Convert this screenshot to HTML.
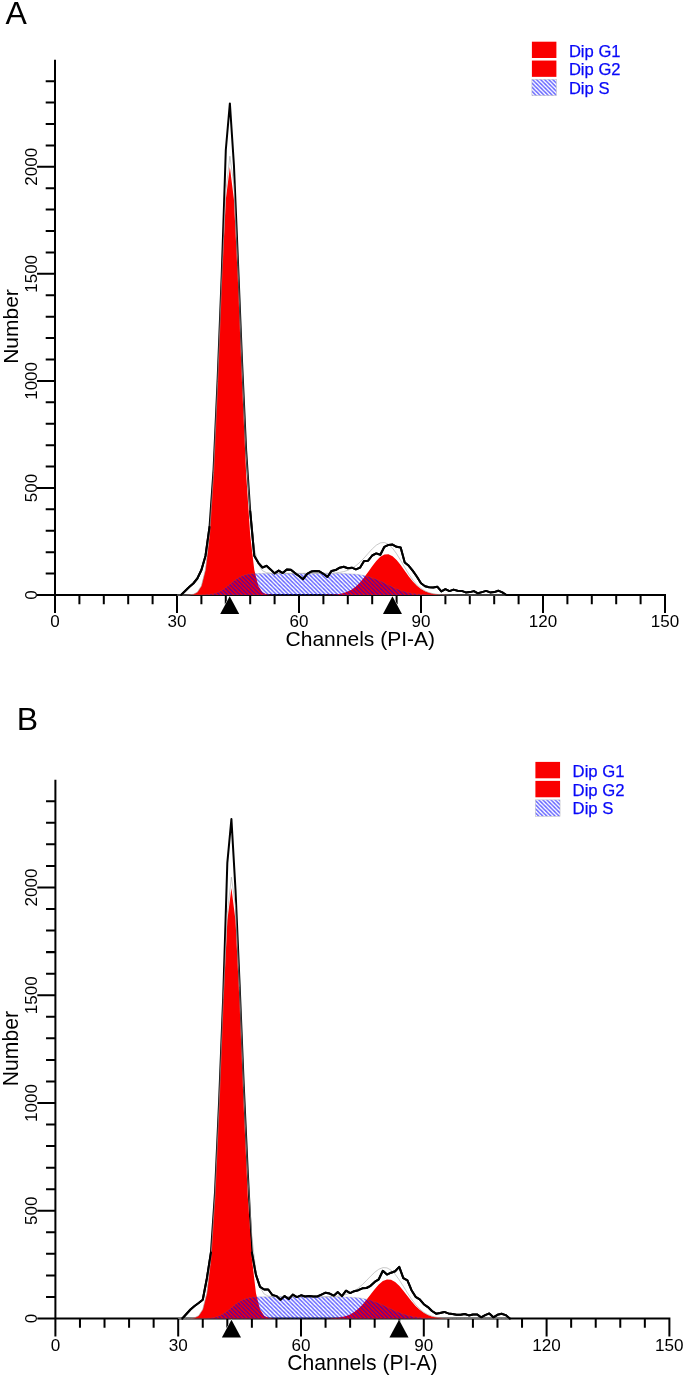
<!DOCTYPE html>
<html lang="en">
<head>
<meta charset="utf-8">
<title>Cell cycle histograms</title>
<style>
html,body{margin:0;padding:0;background:#fff;}
body{width:685px;height:1376px;overflow:hidden;font-family:"Liberation Sans",Arial,sans-serif;}
svg{display:block;}
</style>
</head>
<body>
<svg width="685" height="1376" viewBox="0 0 685 1376">
<defs>
<pattern id="hatch" width="4.08" height="4.08" patternUnits="userSpaceOnUse">
<path d="M-1 -1 L5.08 5.08 M-1 3.08 L1 5.08 M3.08 -1 L5.08 1" stroke="#0000ff" stroke-opacity="0.62" stroke-width="1.35" fill="none"/>
</pattern>
</defs>
<rect x="0" y="0" width="685" height="1376" fill="#fff"/>
<g id="panelA">
<path d="M55.00 59.75 V613.00 M37.00 595.00 H666.00 M55.00 595.00 v18.00 M79.40 595.00 v9.30 M103.80 595.00 v9.30 M128.20 595.00 v9.30 M152.60 595.00 v9.30 M177.00 595.00 v18.00 M201.40 595.00 v9.30 M225.80 595.00 v9.30 M250.20 595.00 v9.30 M274.60 595.00 v9.30 M299.00 595.00 v18.00 M323.40 595.00 v9.30 M347.80 595.00 v9.30 M372.20 595.00 v9.30 M396.60 595.00 v9.30 M421.00 595.00 v18.00 M445.40 595.00 v9.30 M469.80 595.00 v9.30 M494.20 595.00 v9.30 M518.60 595.00 v9.30 M543.00 595.00 v18.00 M567.40 595.00 v9.30 M591.80 595.00 v9.30 M616.20 595.00 v9.30 M640.60 595.00 v9.30 M665.00 595.00 v18.00 M55.00 595.00 h-18.00 M55.00 573.59 h-9.30 M55.00 552.18 h-9.30 M55.00 530.77 h-9.30 M55.00 509.36 h-9.30 M55.00 487.95 h-18.00 M55.00 466.54 h-9.30 M55.00 445.13 h-9.30 M55.00 423.72 h-9.30 M55.00 402.31 h-9.30 M55.00 380.90 h-18.00 M55.00 359.49 h-9.30 M55.00 338.08 h-9.30 M55.00 316.67 h-9.30 M55.00 295.26 h-9.30 M55.00 273.85 h-18.00 M55.00 252.44 h-9.30 M55.00 231.03 h-9.30 M55.00 209.62 h-9.30 M55.00 188.21 h-9.30 M55.00 166.80 h-18.00 M55.00 145.39 h-9.30 M55.00 123.98 h-9.30 M55.00 102.57 h-9.30 M55.00 81.16 h-9.30" fill="none" stroke="#000" stroke-width="2.00"/>
<polyline points="181.07,595.00 185.13,591.00 189.20,587.00 193.27,583.50 197.33,578.50 201.40,570.00 205.47,556.00 209.53,527.00 213.60,469.35 217.67,378.76 221.73,275.02 225.80,150.00 229.87,103.40 233.93,165.00 238.00,262.65 242.07,362.21 246.13,450.18 250.20,511.13 254.27,555.70 258.34,562.80 262.40,567.50 266.47,565.80 270.54,569.40 274.60,573.40 278.67,570.60 282.74,573.10 286.80,569.40 290.87,569.70 294.94,573.10 299.00,576.00 303.07,579.20 307.14,573.80 311.20,571.60 315.27,570.90 319.34,571.30 323.40,573.80 327.47,577.00 331.54,570.90 335.60,570.10 339.67,567.70 343.74,566.80 347.80,568.20 351.87,567.70 355.94,569.40 360.00,567.70 364.07,560.90 368.14,560.70 372.20,555.50 376.27,553.40 380.34,554.80 384.40,546.80 388.47,544.90 392.54,544.60 396.60,546.80 400.67,547.50 404.74,562.40 408.80,565.80 412.87,570.90 416.94,576.70 421.00,583.30 425.07,586.20 429.14,587.20 433.20,587.40 437.27,586.70 441.34,591.40 445.40,589.20 449.47,591.10 453.54,589.60 457.60,590.70 461.67,590.90 465.74,592.40 469.80,592.10 473.87,591.10 477.94,593.30 482.00,592.10 486.07,590.90 490.14,592.40 494.20,592.10 498.27,590.70 502.34,592.40 506.40,595.00" fill="none" stroke="#000" stroke-width="2.00" stroke-linejoin="round" stroke-linecap="round"/>
<polygon points="168.87,595.00 168.87,595.00 172.93,595.00 177.00,595.00 181.07,594.99 185.13,594.97 189.20,594.84 193.27,594.27 197.33,592.23 201.40,585.97 205.47,569.86 209.53,535.22 213.60,473.57 217.67,384.29 221.73,282.63 225.80,199.41 229.87,167.00 233.93,199.41 238.00,282.63 242.07,384.29 246.13,473.57 250.20,535.22 254.27,569.86 258.34,585.97 262.40,592.23 266.47,594.27 270.54,594.84 274.60,594.97 278.67,594.99 282.74,595.00 286.80,595.00 290.87,595.00 294.94,595.00 294.94,595.00" fill="#fa0000"/>
<polygon points="299.00,595.00 299.00,595.00 303.07,595.00 307.14,595.00 311.20,595.00 315.27,594.99 319.34,594.98 323.40,594.94 327.47,594.87 331.54,594.72 335.60,594.44 339.67,593.92 343.74,593.04 347.80,591.62 351.87,589.46 355.94,586.42 360.00,582.41 364.07,577.48 368.14,571.92 372.20,566.19 376.27,560.93 380.34,556.84 384.40,554.50 388.47,554.28 392.54,556.21 396.60,560.00 400.67,565.08 404.74,570.77 408.80,576.41 412.87,581.49 416.94,585.70 421.00,588.93 425.07,591.25 429.14,592.80 433.20,593.78 437.27,594.36 441.34,594.68 445.40,594.85 449.47,594.93 453.54,594.97 457.60,594.99 461.67,595.00 465.74,595.00 469.80,595.00 473.87,595.00 477.94,595.00 482.00,595.00 486.07,595.00 490.14,595.00 494.20,595.00 498.27,595.00 502.34,595.00 506.40,595.00 506.40,595.00" fill="#fa0000"/>
<polygon points="177.00,595.00 177.00,595.00 181.07,595.00 185.13,595.00 189.20,595.00 193.27,595.00 197.33,594.98 201.40,594.94 205.47,594.81 209.53,594.49 213.60,593.79 217.67,592.47 221.73,590.38 225.80,587.53 229.87,584.20 233.93,580.87 238.00,578.02 242.07,575.93 246.13,574.61 250.20,573.91 254.27,573.59 258.34,573.46 262.40,573.42 266.47,573.40 270.54,573.40 274.60,573.40 278.67,573.40 282.74,573.40 286.80,573.40 290.87,573.40 294.94,573.40 299.00,573.40 303.07,573.40 307.14,573.40 311.20,573.40 315.27,573.40 319.34,573.40 323.40,573.40 327.47,573.41 331.54,573.42 335.60,573.44 339.67,573.48 343.74,573.55 347.80,573.68 351.87,573.89 355.94,574.23 360.00,574.75 364.07,575.48 368.14,576.48 372.20,577.75 376.27,579.29 380.34,581.07 384.40,583.00 388.47,585.00 392.54,586.96 396.60,588.77 400.67,590.37 404.74,591.69 408.80,592.74 412.87,593.52 416.94,594.08 421.00,594.45 425.07,594.69 429.14,594.83 433.20,594.91 437.27,594.96 441.34,594.98 445.40,594.99 449.47,595.00 453.54,595.00 457.60,595.00 461.67,595.00 465.74,595.00 469.80,595.00 473.87,595.00 477.94,595.00 482.00,595.00 486.07,595.00 490.14,595.00 494.20,595.00 498.27,595.00 502.34,595.00 506.40,595.00 506.40,595.00" fill="url(#hatch)" stroke="#777" stroke-opacity="0.4" stroke-width="0.5"/>
<polyline points="177.00,595.00 181.07,594.99 185.13,594.97 189.20,594.84 193.27,594.27 197.33,592.21 201.40,585.91 205.47,569.67 209.53,534.71 213.60,472.35 217.67,381.76 221.73,278.02 225.80,191.94 229.87,156.20 233.93,185.27 238.00,265.65 242.07,365.21 246.13,453.18 250.20,514.13 254.27,548.44 258.34,564.42 262.40,570.64 266.47,572.68 270.54,573.24 274.60,573.37 278.67,573.39 282.74,573.40 286.80,573.40 290.87,573.40 294.94,573.40 299.00,573.40 303.07,573.40 307.14,573.40 311.20,573.40 315.27,573.39 319.34,573.38 323.40,573.35 327.47,573.28 331.54,573.14 335.60,572.88 339.67,572.40 343.74,571.59 347.80,570.29 351.87,568.36 355.94,565.66 360.00,562.15 364.07,557.97 368.14,553.40 372.20,548.94 376.27,545.22 380.34,542.90 384.40,542.50 388.47,544.28 392.54,548.17 396.60,553.77 400.67,560.45 404.74,567.46 408.80,574.15 412.87,580.01 416.94,584.78 421.00,588.38 425.07,590.94 429.14,592.64 433.20,593.70 437.27,594.32 441.34,594.66 445.40,594.84 449.47,594.93 453.54,594.97 457.60,594.99 461.67,595.00 465.74,595.00 469.80,595.00 473.87,595.00 477.94,595.00 482.00,595.00 486.07,595.00 490.14,595.00 494.20,595.00 498.27,595.00 502.34,595.00 506.40,595.00" fill="none" stroke="#a4a4a4" stroke-width="0.6"/>
<polyline points="250.20,511.13 254.27,555.70 258.34,562.80 262.40,567.50 266.47,565.80 270.54,569.40 274.60,573.40 278.67,570.60 282.74,573.10 286.80,569.40 290.87,569.70 294.94,573.10 299.00,576.00 303.07,579.20 307.14,573.80 311.20,571.60 315.27,570.90 319.34,571.30 323.40,573.80 327.47,577.00 331.54,570.90 335.60,570.10 339.67,567.70 343.74,566.80 347.80,568.20 351.87,567.70 355.94,569.40 360.00,567.70 364.07,560.90 368.14,560.70 372.20,555.50 376.27,553.40 380.34,554.80 384.40,546.80 388.47,544.90 392.54,544.60 396.60,546.80 400.67,547.50 404.74,562.40 408.80,565.80 412.87,570.90 416.94,576.70 421.00,583.30 425.07,586.20 429.14,587.20 433.20,587.40 437.27,586.70 441.34,591.40 445.40,589.20 449.47,591.10 453.54,589.60 457.60,590.70 461.67,590.90 465.74,592.40 469.80,592.10 473.87,591.10 477.94,593.30 482.00,592.10 486.07,590.90 490.14,592.40 494.20,592.10 498.27,590.70 502.34,592.40 506.40,595.00" fill="none" stroke="#000" stroke-width="2.00" stroke-linejoin="round" stroke-linecap="round"/>
<polyline points="181.07,595.00 185.13,591.00 189.20,587.00 193.27,583.50 197.33,578.50 201.40,570.00 205.47,556.00 209.53,527.00" fill="none" stroke="#000" stroke-width="2.00" stroke-linejoin="round" stroke-linecap="round"/>
<polygon points="229.70,597.40 220.50,613.60 238.90,613.60" fill="#fff" stroke="#fff" stroke-width="1.6" stroke-linejoin="miter"/>
<polygon points="229.70,596.20 220.20,614.00 239.20,614.00" fill="#000"/>
<polygon points="392.45,597.40 383.25,613.60 401.65,613.60" fill="#fff" stroke="#fff" stroke-width="1.6" stroke-linejoin="miter"/>
<polygon points="392.45,596.20 382.95,614.00 401.95,614.00" fill="#000"/>
<text x="55.00" y="627.00" font-size="17.00" text-anchor="middle" font-family="'Liberation Sans', Arial, sans-serif">0</text>
<text x="177.00" y="627.00" font-size="17.00" text-anchor="middle" font-family="'Liberation Sans', Arial, sans-serif">30</text>
<text x="299.00" y="627.00" font-size="17.00" text-anchor="middle" font-family="'Liberation Sans', Arial, sans-serif">60</text>
<text x="421.00" y="627.00" font-size="17.00" text-anchor="middle" font-family="'Liberation Sans', Arial, sans-serif">90</text>
<text x="543.00" y="627.00" font-size="17.00" text-anchor="middle" font-family="'Liberation Sans', Arial, sans-serif">120</text>
<text x="665.00" y="627.00" font-size="17.00" text-anchor="middle" font-family="'Liberation Sans', Arial, sans-serif">150</text>
<text transform="translate(36.90 595.00) rotate(-90)" font-size="17.00" text-anchor="middle" font-family="'Liberation Sans', Arial, sans-serif">0</text>
<text transform="translate(36.90 487.95) rotate(-90)" font-size="17.00" text-anchor="middle" font-family="'Liberation Sans', Arial, sans-serif">500</text>
<text transform="translate(36.90 380.90) rotate(-90)" font-size="17.00" text-anchor="middle" font-family="'Liberation Sans', Arial, sans-serif">1000</text>
<text transform="translate(36.90 273.85) rotate(-90)" font-size="17.00" text-anchor="middle" font-family="'Liberation Sans', Arial, sans-serif">1500</text>
<text transform="translate(36.90 166.80) rotate(-90)" font-size="17.00" text-anchor="middle" font-family="'Liberation Sans', Arial, sans-serif">2000</text>
<text x="360.30" y="645.70" font-size="21.00" text-anchor="middle" font-family="'Liberation Sans', Arial, sans-serif">Channels (PI-A)</text>
<text transform="translate(17.50 326.50) rotate(-90)" font-size="21.00" text-anchor="middle" font-family="'Liberation Sans', Arial, sans-serif">Number</text>
<rect x="531.90" y="41.70" width="24.50" height="16.30" fill="#fa0000"/>
<rect x="531.90" y="60.55" width="24.50" height="16.30" fill="#fa0000"/>
<rect x="531.90" y="79.40" width="24.50" height="16.30" fill="url(#hatch)" stroke="#bbb" stroke-width="0.5"/>
<text x="568.90" y="56.60" font-size="16.60" fill="#0808f8" stroke="#0808f8" stroke-width="0.25" font-family="'Liberation Sans', Arial, sans-serif">Dip G1</text>
<text x="568.90" y="75.25" font-size="16.60" fill="#0808f8" stroke="#0808f8" stroke-width="0.25" font-family="'Liberation Sans', Arial, sans-serif">Dip G2</text>
<text x="568.90" y="93.90" font-size="16.60" fill="#0808f8" stroke="#0808f8" stroke-width="0.25" font-family="'Liberation Sans', Arial, sans-serif">Dip S</text>
<text x="5.60" y="23.80" font-size="32.00" font-family="'Liberation Sans', Arial, sans-serif">A</text>
</g>
<g id="panelB">
<path d="M55.40 779.70 V1336.62 M37.28 1318.50 H670.40 M55.40 1318.50 v18.12 M79.96 1318.50 v9.36 M104.52 1318.50 v9.36 M129.08 1318.50 v9.36 M153.64 1318.50 v9.36 M178.20 1318.50 v18.12 M202.76 1318.50 v9.36 M227.32 1318.50 v9.36 M251.88 1318.50 v9.36 M276.44 1318.50 v9.36 M301.00 1318.50 v18.12 M325.56 1318.50 v9.36 M350.12 1318.50 v9.36 M374.68 1318.50 v9.36 M399.24 1318.50 v9.36 M423.80 1318.50 v18.12 M448.36 1318.50 v9.36 M472.92 1318.50 v9.36 M497.48 1318.50 v9.36 M522.04 1318.50 v9.36 M546.60 1318.50 v18.12 M571.16 1318.50 v9.36 M595.72 1318.50 v9.36 M620.28 1318.50 v9.36 M644.84 1318.50 v9.36 M669.39 1318.50 v18.12 M55.40 1318.50 h-18.12 M55.40 1296.95 h-9.36 M55.40 1275.40 h-9.36 M55.40 1253.84 h-9.36 M55.40 1232.29 h-9.36 M55.40 1210.74 h-18.12 M55.40 1189.19 h-9.36 M55.40 1167.64 h-9.36 M55.40 1146.08 h-9.36 M55.40 1124.53 h-9.36 M55.40 1102.98 h-18.12 M55.40 1081.43 h-9.36 M55.40 1059.88 h-9.36 M55.40 1038.32 h-9.36 M55.40 1016.77 h-9.36 M55.40 995.22 h-18.12 M55.40 973.67 h-9.36 M55.40 952.12 h-9.36 M55.40 930.56 h-9.36 M55.40 909.01 h-9.36 M55.40 887.46 h-18.12 M55.40 865.91 h-9.36 M55.40 844.36 h-9.36 M55.40 822.80 h-9.36 M55.40 801.25 h-9.36" fill="none" stroke="#000" stroke-width="2.01"/>
<polyline points="182.29,1318.50 186.39,1314.00 190.48,1309.50 194.57,1306.00 198.67,1303.00 202.76,1299.70 206.85,1278.50 210.95,1252.50 215.04,1192.14 219.13,1101.02 223.23,996.67 227.32,862.80 231.41,819.00 235.51,890.00 239.60,984.24 243.69,1084.39 247.79,1172.88 251.88,1252.50 255.97,1274.90 260.06,1286.90 264.16,1289.50 268.25,1289.50 272.34,1295.00 276.44,1296.10 280.53,1299.70 284.62,1296.10 288.72,1299.00 292.81,1294.60 296.90,1297.10 301.00,1295.30 305.09,1296.50 309.18,1296.10 313.28,1296.50 317.37,1296.50 321.46,1294.60 325.56,1292.70 329.65,1293.60 333.74,1295.70 337.84,1292.10 341.93,1296.10 346.02,1290.70 350.12,1293.10 354.21,1291.20 358.30,1290.20 362.40,1288.30 366.49,1288.00 370.58,1285.80 374.68,1281.90 378.77,1279.30 382.86,1270.80 386.96,1274.60 391.05,1272.70 395.14,1271.20 399.24,1266.90 403.33,1278.10 407.42,1280.40 411.52,1290.20 415.61,1296.80 419.70,1299.30 423.80,1304.20 427.89,1307.10 431.98,1311.00 436.08,1313.70 440.17,1312.90 444.26,1311.90 448.36,1313.40 452.45,1314.00 456.54,1314.80 460.64,1314.80 464.73,1314.00 468.82,1315.40 472.92,1314.40 477.01,1314.40 481.10,1317.30 485.20,1315.10 489.29,1313.40 493.38,1317.30 497.48,1314.80 501.57,1313.70 505.66,1315.10 509.76,1318.50" fill="none" stroke="#000" stroke-width="2.01" stroke-linejoin="round" stroke-linecap="round"/>
<polygon points="170.01,1318.50 170.01,1318.50 174.11,1318.50 178.20,1318.50 182.29,1318.49 186.39,1318.47 190.48,1318.34 194.57,1317.77 198.67,1315.71 202.76,1309.41 206.85,1293.21 210.95,1258.37 215.04,1196.36 219.13,1106.55 223.23,1004.31 227.32,920.60 231.41,888.00 235.51,920.60 239.60,1004.31 243.69,1106.55 247.79,1196.36 251.88,1258.37 255.97,1293.21 260.06,1309.41 264.16,1315.71 268.25,1317.77 272.34,1318.34 276.44,1318.47 280.53,1318.49 284.62,1318.50 288.72,1318.50 292.81,1318.50 296.90,1318.50 296.90,1318.50" fill="#fa0000"/>
<polygon points="301.00,1318.50 301.00,1318.50 305.09,1318.50 309.18,1318.50 313.28,1318.49 317.37,1318.48 321.46,1318.46 325.56,1318.41 329.65,1318.31 333.74,1318.11 337.84,1317.74 341.93,1317.09 346.02,1316.04 350.12,1314.40 354.21,1312.02 358.30,1308.79 362.40,1304.66 366.49,1299.78 370.58,1294.45 374.68,1289.16 378.77,1284.51 382.86,1281.10 386.96,1279.42 391.05,1279.73 395.14,1281.96 399.24,1285.80 403.33,1290.71 407.42,1296.07 411.52,1301.31 415.61,1305.99 419.70,1309.85 423.80,1312.82 427.89,1314.96 431.98,1316.41 436.08,1317.32 440.17,1317.87 444.26,1318.18 448.36,1318.35 452.45,1318.43 456.54,1318.47 460.64,1318.49 464.73,1318.50 468.82,1318.50 472.92,1318.50 477.01,1318.50 481.10,1318.50 485.20,1318.50 489.29,1318.50 493.38,1318.50 497.48,1318.50 501.57,1318.50 505.66,1318.50 509.76,1318.50 509.76,1318.50" fill="#fa0000"/>
<polygon points="178.20,1318.50 178.20,1318.50 182.29,1318.50 186.39,1318.50 190.48,1318.50 194.57,1318.50 198.67,1318.48 202.76,1318.44 206.85,1318.31 210.95,1317.99 215.04,1317.28 219.13,1315.96 223.23,1313.86 227.32,1311.00 231.41,1307.65 235.51,1304.30 239.60,1301.44 243.69,1299.34 247.79,1298.02 251.88,1297.31 255.97,1296.99 260.06,1296.86 264.16,1296.82 268.25,1296.80 272.34,1296.80 276.44,1296.80 280.53,1296.80 284.62,1296.80 288.72,1296.80 292.81,1296.80 296.90,1296.80 301.00,1296.80 305.09,1296.80 309.18,1296.80 313.28,1296.80 317.37,1296.80 321.46,1296.80 325.56,1296.81 329.65,1296.81 333.74,1296.83 337.84,1296.85 341.93,1296.91 346.02,1297.00 350.12,1297.16 354.21,1297.43 358.30,1297.83 362.40,1298.42 366.49,1299.23 370.58,1300.30 374.68,1301.64 378.77,1303.24 382.86,1305.03 386.96,1306.96 391.05,1308.92 395.14,1310.82 399.24,1312.57 403.33,1314.09 407.42,1315.35 411.52,1316.34 415.61,1317.08 419.70,1317.61 423.80,1317.96 427.89,1318.19 431.98,1318.33 436.08,1318.41 440.17,1318.46 444.26,1318.48 448.36,1318.49 452.45,1318.50 456.54,1318.50 460.64,1318.50 464.73,1318.50 468.82,1318.50 472.92,1318.50 477.01,1318.50 481.10,1318.50 485.20,1318.50 489.29,1318.50 493.38,1318.50 497.48,1318.50 501.57,1318.50 505.66,1318.50 509.76,1318.50 509.76,1318.50" fill="url(#hatch)" stroke="#777" stroke-opacity="0.4" stroke-width="0.5"/>
<polyline points="178.20,1318.50 182.29,1318.49 186.39,1318.47 190.48,1318.34 194.57,1317.76 198.67,1315.69 202.76,1309.35 206.85,1293.02 210.95,1257.85 215.04,1195.14 219.13,1104.02 223.23,999.67 227.32,913.09 231.41,877.15 235.51,906.40 239.60,987.24 243.69,1087.39 247.79,1175.88 251.88,1237.18 255.97,1271.70 260.06,1287.77 264.16,1294.03 268.25,1296.07 272.34,1296.64 276.44,1296.77 280.53,1296.79 284.62,1296.80 288.72,1296.80 292.81,1296.80 296.90,1296.80 301.00,1296.80 305.09,1296.80 309.18,1296.80 313.28,1296.79 317.37,1296.78 321.46,1296.76 325.56,1296.72 329.65,1296.62 333.74,1296.43 337.84,1296.09 341.93,1295.50 346.02,1294.54 350.12,1293.06 354.21,1290.95 358.30,1288.12 362.40,1284.58 366.49,1280.51 370.58,1276.26 374.68,1272.31 378.77,1269.25 382.86,1267.64 386.96,1267.89 391.05,1270.15 395.14,1274.28 399.24,1279.87 403.33,1286.30 407.42,1292.92 411.52,1299.15 415.61,1304.57 419.70,1308.96 423.80,1312.29 427.89,1314.65 431.98,1316.24 436.08,1317.23 440.17,1317.83 444.26,1318.16 448.36,1318.34 452.45,1318.43 456.54,1318.47 460.64,1318.49 464.73,1318.49 468.82,1318.50 472.92,1318.50 477.01,1318.50 481.10,1318.50 485.20,1318.50 489.29,1318.50 493.38,1318.50 497.48,1318.50 501.57,1318.50 505.66,1318.50 509.76,1318.50" fill="none" stroke="#a4a4a4" stroke-width="0.6"/>
<polyline points="251.88,1252.50 255.97,1274.90 260.06,1286.90 264.16,1289.50 268.25,1289.50 272.34,1295.00 276.44,1296.10 280.53,1299.70 284.62,1296.10 288.72,1299.00 292.81,1294.60 296.90,1297.10 301.00,1295.30 305.09,1296.50 309.18,1296.10 313.28,1296.50 317.37,1296.50 321.46,1294.60 325.56,1292.70 329.65,1293.60 333.74,1295.70 337.84,1292.10 341.93,1296.10 346.02,1290.70 350.12,1293.10 354.21,1291.20 358.30,1290.20 362.40,1288.30 366.49,1288.00 370.58,1285.80 374.68,1281.90 378.77,1279.30 382.86,1270.80 386.96,1274.60 391.05,1272.70 395.14,1271.20 399.24,1266.90 403.33,1278.10 407.42,1280.40 411.52,1290.20 415.61,1296.80 419.70,1299.30 423.80,1304.20 427.89,1307.10 431.98,1311.00 436.08,1313.70 440.17,1312.90 444.26,1311.90 448.36,1313.40 452.45,1314.00 456.54,1314.80 460.64,1314.80 464.73,1314.00 468.82,1315.40 472.92,1314.40 477.01,1314.40 481.10,1317.30 485.20,1315.10 489.29,1313.40 493.38,1317.30 497.48,1314.80 501.57,1313.70 505.66,1315.10 509.76,1318.50" fill="none" stroke="#000" stroke-width="2.01" stroke-linejoin="round" stroke-linecap="round"/>
<polyline points="182.29,1318.50 186.39,1314.00 190.48,1309.50 194.57,1306.00 198.67,1303.00 202.76,1299.70 206.85,1278.50 210.95,1252.50" fill="none" stroke="#000" stroke-width="2.01" stroke-linejoin="round" stroke-linecap="round"/>
<polygon points="231.45,1320.92 222.19,1337.22 240.71,1337.22" fill="#fff" stroke="#fff" stroke-width="1.6" stroke-linejoin="miter"/>
<polygon points="231.45,1319.71 221.89,1337.62 241.01,1337.62" fill="#000"/>
<polygon points="399.00,1320.92 389.74,1337.22 408.26,1337.22" fill="#fff" stroke="#fff" stroke-width="1.6" stroke-linejoin="miter"/>
<polygon points="399.00,1319.71 389.44,1337.62 408.56,1337.62" fill="#000"/>
<text x="55.40" y="1350.70" font-size="17.10" text-anchor="middle" font-family="'Liberation Sans', Arial, sans-serif">0</text>
<text x="178.20" y="1350.70" font-size="17.10" text-anchor="middle" font-family="'Liberation Sans', Arial, sans-serif">30</text>
<text x="301.00" y="1350.70" font-size="17.10" text-anchor="middle" font-family="'Liberation Sans', Arial, sans-serif">60</text>
<text x="423.80" y="1350.70" font-size="17.10" text-anchor="middle" font-family="'Liberation Sans', Arial, sans-serif">90</text>
<text x="546.60" y="1350.70" font-size="17.10" text-anchor="middle" font-family="'Liberation Sans', Arial, sans-serif">120</text>
<text x="669.39" y="1350.70" font-size="17.10" text-anchor="middle" font-family="'Liberation Sans', Arial, sans-serif">150</text>
<text transform="translate(37.20 1318.50) rotate(-90)" font-size="17.10" text-anchor="middle" font-family="'Liberation Sans', Arial, sans-serif">0</text>
<text transform="translate(37.20 1210.74) rotate(-90)" font-size="17.10" text-anchor="middle" font-family="'Liberation Sans', Arial, sans-serif">500</text>
<text transform="translate(37.20 1102.98) rotate(-90)" font-size="17.10" text-anchor="middle" font-family="'Liberation Sans', Arial, sans-serif">1000</text>
<text transform="translate(37.20 995.22) rotate(-90)" font-size="17.10" text-anchor="middle" font-family="'Liberation Sans', Arial, sans-serif">1500</text>
<text transform="translate(37.20 887.46) rotate(-90)" font-size="17.10" text-anchor="middle" font-family="'Liberation Sans', Arial, sans-serif">2000</text>
<text x="362.40" y="1369.50" font-size="21.15" text-anchor="middle" font-family="'Liberation Sans', Arial, sans-serif">Channels (PI-A)</text>
<text transform="translate(18.00 1048.60) rotate(-90)" font-size="21.15" text-anchor="middle" font-family="'Liberation Sans', Arial, sans-serif">Number</text>
<rect x="535.40" y="761.90" width="24.66" height="16.41" fill="#fa0000"/>
<rect x="535.40" y="780.87" width="24.66" height="16.41" fill="#fa0000"/>
<rect x="535.40" y="799.85" width="24.66" height="16.41" fill="url(#hatch)" stroke="#bbb" stroke-width="0.5"/>
<text x="572.60" y="777.10" font-size="16.70" fill="#0808f8" stroke="#0808f8" stroke-width="0.25" font-family="'Liberation Sans', Arial, sans-serif">Dip G1</text>
<text x="572.60" y="795.75" font-size="16.70" fill="#0808f8" stroke="#0808f8" stroke-width="0.25" font-family="'Liberation Sans', Arial, sans-serif">Dip G2</text>
<text x="572.60" y="814.40" font-size="16.70" fill="#0808f8" stroke="#0808f8" stroke-width="0.25" font-family="'Liberation Sans', Arial, sans-serif">Dip S</text>
<text x="16.80" y="729.60" font-size="32.00" font-family="'Liberation Sans', Arial, sans-serif">B</text>
</g>
</svg>
</body>
</html>
